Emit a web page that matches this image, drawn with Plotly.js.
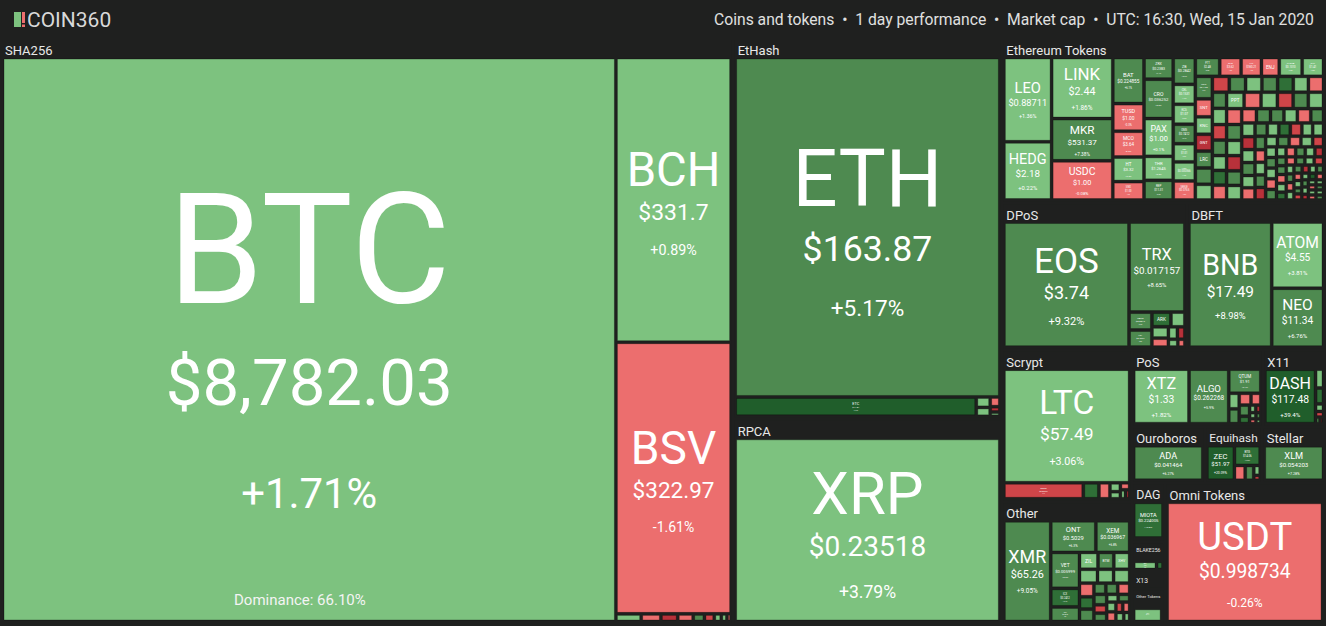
<!DOCTYPE html>
<html><head><meta charset="utf-8">
<script src="https://cdn.plot.ly/plotly-3.0.1.min.js"></script>
<style>html,body{margin:0;padding:0;background:#1f201f;}#chart{width:1326px;height:626px;}</style>
</head><body><div id="chart"></div>
<script>
// ---------- DATA (tile size ~ relative market-cap weight) ----------
const groupNames = ["SHA256","EtHash","RPCA","Ethereum Tokens","DPoS","DBFT","Scrypt","Other","PoS","X11","Ouroboros","Equihash","Stellar","DAG","BLAKE256","X13","Other Tokens","Omni Tokens"];

const sha256Coins   = ["BTC","BCH","BSV","ELA","SYS","NMC","PPC","UNO","EMC","CURE","XJO","DEM"];
const sha256Sizes   = [322.6,30.6,29.2,0.18,0.14,0.12,0.11,0.08,0.07,0.05,0.04,0.03];
const sha256Changes = [1.71,0.89,-1.61,2.1,-1.2,-6.5,-1.8,5.5,-4.0,1.2,3.0,-1.0];
const sha256Prices  = ["$8,782.03","$331.7","$322.97"];

const ethashCoins   = ["ETH","ETC","UBQ","EXP","ETP","CLO","ETHO"];
const ethashSizes   = [86.4,4.5,0.14,0.12,0.09,0.05,0.04];
const ethashChanges = [5.17,17.6,2.4,1.5,-2.2,-7.0,3.1];
const ethashPrices  = ["$163.87","$11.81"];

const rpcaCoins   = ["XRP"];
const rpcaSizes   = [49.2];
const rpcaChanges = [3.79];
const rpcaPrices  = ["$0.23518"];

const ercCoins = ["LEO","HEDG","LINK","MKR","USDC","BAT","TUSD","MCO","HT","SNX","ZRX","CRO","PAX","THR","REP","ZB","CEL","KCS","OMG","DAI","HOT","SEELE","FTT","OKB","XIN","ENJ","THETA","SXP","NEXO",
  "SNT","KNC","GNT","LRC","BNT","MATIC","QNT","ELF","NPXS","MANA","REN","LOOM","POWR","STORJ","RLC","ANT","GNO","MLN","DENT","FUN",
  "PPT","GUSD","HUSD","CRPT","LINA","INB","ROX","EKT","TRIO","ELEC","DRGN","ETHOS","BRD","GVT","ZCN",
  "POLY","TEL","NMR","RDN","SAN","CHSB","SOLVE","UTK","AERGO","CVC","PAY","BAND","ORBS","ENG","DX","MX","KAN","BTU","QKC","STMX","TOMO","LAMB","HYN","DGTX","AMPL","USDK","BOX","WTC","IDEX","BZRX",
  "MTL","OGN","CND","REQ","SNGLS","MTH","BLZ","QSP","DATA","AST","GTO","LEND","EDO","RCN","TNB","POE","WPR","VIB","OAX","DNT","MFT","CDT","STORM","APPC","SUB","QLC","ARN","AMB","LUN","EVX","MOD","SALT","ADX","KEY","CMT","NCASH","ABT","MDA","YOYO","DLT"];
const ercSizes = [4.2,2.9,3.9,2.7,2.5,1.5,0.9,0.84,0.8,0.6,0.66,1.2,1.15,0.73,0.6,0.62,0.46,0.46,0.45,0.42,0.44,0.44,0.48,0.42,0.4,0.35,0.45,0.42,0.4,
  0.32,0.31,0.30,0.30,0.29,0.28,0.28,0.27,0.27,0.26,0.26,0.25,0.25,0.24,0.24,0.23,0.23,0.22,0.22,0.22,
  0.30,0.29,0.28,0.27,0.26,0.26,0.25,0.25,0.24,0.24,0.23,0.23,0.22,0.21,0.20,
  0.20,0.20,0.19,0.19,0.18,0.18,0.18,0.17,0.17,0.17,0.16,0.16,0.16,0.15,0.15,0.15,0.14,0.14,0.14,0.14,0.13,0.13,0.13,0.13,0.12,0.12,0.12,0.12,0.12,0.12,
  0.10,0.10,0.10,0.10,0.09,0.09,0.09,0.09,0.09,0.08,0.08,0.08,0.08,0.08,0.07,0.07,0.07,0.07,0.07,0.06,0.06,0.06,0.06,0.06,0.05,0.05,0.05,0.05,0.05,0.05,0.05,0.04,0.04,0.04,0.04,0.04,0.04,0.04,0.04,0.04];
const ercChanges = [1.36,0.22,1.86,7.38,-0.08,6.1,-0.3,-0.9,2.3,-1.6,7.1,5.6,0.1,0.8,6.0,5.2,1.2,2.0,6.4,0.3,1.5,-1.0,5.5,-1.5,-1.2,-0.8,2.5,2.0,6.2,
  -1.1,3.2,-6.8,5.4,6.6,2.2,-2.5,7.9,1.4,5.1,11.3,3.7,-0.6,6.2,2.9,-3.4,8.1,0.7,12.6,-1.9,
  2.4,-0.2,0.1,-3.6,5.2,1.7,-1.3,7.7,3.3,-5.4,6.9,2.0,-0.9,4.6,9.2,
  4.1,-0.9,6.8,2.6,-5.2,1.1,7.4,3.3,-1.4,5.9,2.0,14.2,-2.8,4.4,0.5,6.1,-0.4,3.6,8.8,-7.1,2.4,5.7,-1.3,1.9,-3.9,0.2,6.4,3.1,-0.7,9.6,
  2.8,-2.2,5.3,1.6,-8.4,4.7,7.2,-1.0,3.4,12.1,-0.5,6.5,2.1,-4.6,1.0,5.8,-1.7,3.9,8.3,-6.2,2.5,4.9,-0.3,1.3,6.7,-2.9,3.0,15.4,-1.1,5.0,2.3,-9.1,4.2,1.8,-1.6,7.6,3.5,-0.8,2.7,6.0];
const ercPrices = ["$0.88711","$2.18","$2.44","$531.37","$1.00","$0.224855","$1.00","$3.64","$3.32","$1.00","$0.2383","$0.036252","$1.00","$1.2645","$11.31","$0.2842","$0.1531","$1.07","$0.7412","$1.01","$0.000366","$0.0765","$2.48","$3.62","$180.21","","$0.1010","$1.41","$0.1105"];

const dposCoins   = ["EOS","TRX","NANO","LSK","ARK","BTS","STEEM","WAXP","GXC","WICC","FIO","TLOS"];
const dposSizes   = [16.8,5.4,0.44,0.42,0.3,0.22,0.2,0.16,0.12,0.1,0.08,0.06];
const dposChanges = [9.32,8.65,6.0,5.8,14.5,2.1,3.4,-1.4,2.6,-6.0,1.5,-2.1];
const dposPrices  = ["$3.74","$0.017157","$0.8812","$0.3924"];

const dbftCoins   = ["BNB","ATOM","NEO"];
const dbftSizes   = [11.2,3.7,3.3];
const dbftChanges = [8.98,3.81,6.76];
const dbftPrices  = ["$17.49","$4.55","$11.34"];

const scryptCoins   = ["LTC","DOGE","EMC2","VIA","FTC","RDD","GAME","SXC","PND"];
const scryptSizes   = [15.4,1.37,0.27,0.19,0.1,0.08,0.07,0.05,0.04];
const scryptChanges = [3.06,-3.1,12.0,-2.4,3.0,4.0,-1.0,2.0,-5.0];
const scryptPrices  = ["$57.49","$0.002337"];

const otherCoins   = ["XMR","ONT","XEM","VET","ICX","RVN","ZIL","BTM","XHV","DGB","BTT","BCN","IOST","BEAM","AEON","WAN","AE","GRIN","LOKI","ARDR","XZC","HC","MONA","XVG","TRTL","GRS","VTC","NRG","MSR"];
const otherSizes   = [5.3,1.6,1.2,1.16,0.6,0.47,0.35,0.3,0.3,0.28,0.25,0.25,0.22,0.2,0.2,0.15,0.15,0.15,0.15,0.12,0.12,0.1,0.1,0.1,0.1,0.08,0.08,0.08,0.06];
const otherChanges = [9.05,6.3,6.8,5.9,12.4,6.5,2.2,6.1,2.0,3.0,2.0,1.0,-1.5,12.0,7.0,6.0,7.0,-1.0,6.0,-3.0,5.0,2.0,9.0,4.0,-2.0,-4.0,-1.0,3.0,3.0];
const otherPrices  = ["$65.26","$0.5029","$0.036967","$0.005999","$0.2412","$0.0218"];

const posCoins   = ["XTZ","ALGO","QTUM","WAVES","STRAT","NULS","NXT","PIVX","NAV","BLK","GRC","POT","OK","CLAM","XST"];
const posSizes   = [3.9,2.8,1.0,0.21,0.2,0.18,0.15,0.15,0.1,0.06,0.05,0.05,0.04,0.04,0.03];
const posChanges = [1.82,5.9,6.4,2.1,5.5,-1.5,-1.5,6.0,14.0,2.0,-6.0,3.0,-2.0,8.0,1.0];
const posPrices  = ["$1.33","$0.262268","$1.91"];

const x11Coins   = ["DASH","XSN","MUE","SIB","CRW","ION","HTML"];
const x11Sizes   = [3.7,0.2,0.17,0.08,0.06,0.04,0.03];
const x11Changes = [39.4,2.0,10.5,1.0,-3.0,5.0,-6.0];
const x11Prices  = ["$117.48"];

const ouroCoins = ["ADA"];   const ouroSizes = [3.7];   const ouroChanges = [6.27];  const ouroPrices = ["$0.041464"];
const equiCoins   = ["ZEC","BTG","KMD","ZEN","ZCL","BTCP"];
const equiSizes   = [1.5,0.8,0.25,0.2,0.1,0.05];
const equiChanges = [20.09,12.3,-1.5,8.0,3.0,-4.0];
const equiPrices  = ["$51.97","$14.06"];
const stellarCoins = ["XLM"]; const stellarSizes = [3.2]; const stellarChanges = [7.28]; const stellarPrices = ["$0.054203"];
const dagCoins = ["MIOTA","GBYTE"]; const dagSizes = [1.7,0.06]; const dagChanges = [13.8,3.0]; const dagPrices = ["$0.224005"];
const blakeCoins = ["DCR","XVC"]; const blakeSizes = [0.7,0.2]; const blakeChanges = [2.5,11.0]; const blakePrices = ["$18"];
const x13Coins = ["BCD"]; const x13Sizes = [0.5]; const x13Changes = [10.5]; const x13Prices = ["$0.83"];
const otokCoins = ["NUT","DGD"]; const otokSizes = [1.0,0.05]; const otokChanges = [2.0,-3.0]; const otokPrices = ["$21.41"];

const omniCoins   = ["USDT","MAID"];
const omniSizes   = [20.1,0.12];
const omniChanges = [-0.26,-2.5];
const omniPrices  = ["$0.998734"];

const groupData = [
  [sha256Coins,sha256Sizes,sha256Changes,sha256Prices],
  [ethashCoins,ethashSizes,ethashChanges,ethashPrices],
  [rpcaCoins,rpcaSizes,rpcaChanges,rpcaPrices],
  [ercCoins,ercSizes,ercChanges,ercPrices],
  [dposCoins,dposSizes,dposChanges,dposPrices],
  [dbftCoins,dbftSizes,dbftChanges,dbftPrices],
  [scryptCoins,scryptSizes,scryptChanges,scryptPrices],
  [otherCoins,otherSizes,otherChanges,otherPrices],
  [posCoins,posSizes,posChanges,posPrices],
  [x11Coins,x11Sizes,x11Changes,x11Prices],
  [ouroCoins,ouroSizes,ouroChanges,ouroPrices],
  [equiCoins,equiSizes,equiChanges,equiPrices],
  [stellarCoins,stellarSizes,stellarChanges,stellarPrices],
  [dagCoins,dagSizes,dagChanges,dagPrices],
  [blakeCoins,blakeSizes,blakeChanges,blakePrices],
  [x13Coins,x13Sizes,x13Changes,x13Prices],
  [otokCoins,otokSizes,otokChanges,otokPrices],
  [omniCoins,omniSizes,omniChanges,omniPrices]
];

// ---------- STYLE ----------
const BG = "#1f201f";
const NONE = "rgba(0,0,0,0)";
function colorFor(ch){
  if (ch <= -5) return "#b8313a";
  if (ch <= -2.5) return "#cf4549";
  if (ch < 0) return "#ec6e6e";
  if (ch < 4.5) return "#7dc27f";
  if (ch < 10) return "#4e8a50";
  if (ch < 15) return "#2f6f37";
  return "#205e2b";
}
function fmtChange(c){
  let s = Math.abs(c).toFixed(2);
  if (s.endsWith("0")) s = s.slice(0,-1);
  return (c >= 0 ? "+" : "-") + s + "%";
}

// root + groups + coins
const ids=["root"], parents=[""], values=[0];
const cellLabels=[""], hdrLabels=[""];
const colors=[BG], texts=[""], fsz=[12], fcol=[NONE], lcol=[BG], lw=[0];
const hdrText=[""];
groupNames.forEach((g, gi) => {
  ids.push("g:"+g); parents.push("root"); values.push(0);
  cellLabels.push(""); hdrLabels.push(g); hdrText.push(g);
  colors.push(BG); texts.push(""); fsz.push(13); fcol.push(NONE); lcol.push(BG); lw.push(0);
  const [coins, sizes, changes, prices] = groupData[gi];
  coins.forEach((c, i) => {
    ids.push(g+"/"+c); parents.push("g:"+g); values.push(sizes[i]);
    cellLabels.push(""); hdrLabels.push(c); hdrText.push("");
    colors.push(colorFor(changes[i]));
    const a = Math.sqrt(sizes[i]*1000);
    const L = 0.27*a, P = 0.4*L+4, C = 0.26*L+2;
    // line pitch (1.3 x base size) just large enough that the lines do not overlap
    const B = Math.max(P, (0.26*L + 0.96*P)/1.3);
    let t = "";
    if (sizes[i] >= 0.3) {
      const price = prices[i] || "";
      t = '<span style="font-size:'+L.toFixed(1)+'px">'+c+'</span>';
      if (price) t += '<br><span style="font-size:'+P.toFixed(1)+'px">'+price+'</span><br><span style="font-size:'+C.toFixed(1)+'px">'+fmtChange(changes[i])+"</span>";
    }
    texts.push(t); fsz.push(+Math.max(B,3).toFixed(1)); fcol.push("#ffffff");
    lcol.push("rgba(0,0,0,0.28)"); lw.push(1);
  });
});

const W = 1326, H = 626, mL = 0, mR = 0, mT = 21, mB = 0;
const pw = W - mL - mR, ph = H - mT - mB;
const px = x => (x - mL)/pw, py = y => 1 - (y - mT)/ph;
const pad = {t: 19, l: 2, r: 2, b: 3};

// cells + centred cell texts
const cells = {
  type: "treemap", ids, labels: cellLabels, parents, values, branchvalues: "remainder", sort: false,
  text: texts, textinfo: "text", textposition: "middle center",
  textfont: {family: "Roboto, sans-serif", size: fsz, color: fcol},
  marker: {colors, line: {color: lcol, width: lw}, pad, depthfade: false},
  pathbar: {visible: false}, tiling: {packing: "squarify"}, hoverinfo: "skip"
};
// same hierarchy drawn to group depth only, transparent: left-aligned group headers
const headers = {
  type: "treemap", ids, labels: hdrLabels, parents, values, branchvalues: "remainder", sort: false,
  text: hdrText, textinfo: "text", textposition: "top left", maxdepth: 2,
  textfont: {family: "Roboto, sans-serif", size: 13, color: "#e8e8e8"},
  marker: {colors: ids.map(() => NONE), line: {width: 0}, pad, depthfade: false},
  pathbar: {visible: false}, tiling: {packing: "squarify"}, hoverinfo: "skip"
};

const layout = {
  width: W, height: H, margin: {l: mL, r: mR, t: mT, b: mB},
  paper_bgcolor: BG, plot_bgcolor: BG,
  font: {family: "Roboto, sans-serif", color: "#ffffff"},
  shapes: [
    {type:"rect", xref:"paper", yref:"paper", x0:px(14), x1:px(21), y0:py(27), y1:py(12), fillcolor:"#7dc27f", line:{width:0}},
    {type:"rect", xref:"paper", yref:"paper", x0:px(22), x1:px(25), y0:py(23), y1:py(12), fillcolor:"#ec6e6e", line:{width:0}},
    {type:"rect", xref:"paper", yref:"paper", x0:px(22), x1:px(25), y0:py(27), y1:py(24.5), fillcolor:"#ec6e6e", line:{width:0}}
  ],
  annotations: [
    {xref:"paper", yref:"paper", x:px(25), y:py(20), xanchor:"left", yanchor:"middle", showarrow:false,
     text:"COIN360", font:{family:"Roboto, sans-serif", size:21, color:"#d9d9d9"}},
    {xref:"paper", yref:"paper", x:px(1316), y:py(19), xanchor:"right", yanchor:"middle", showarrow:false,
     text:"Coins and tokens  •  1 day performance  •  Market cap  •  UTC: 16:30, Wed, 15 Jan 2020", font:{family:"Roboto, sans-serif", size:15.7, color:"#e0e0e0"}},
    {xref:"paper", yref:"paper", x:px(300), y:py(600), xanchor:"center", yanchor:"middle", showarrow:false,
     text:"Dominance: 66.10%", font:{family:"Roboto, sans-serif", size:15, color:"#f4f4f4"}}
  ]
};

Plotly.newPlot("chart", [cells, headers], layout, {displayModeBar: false, staticPlot: true});
</script></body></html>
